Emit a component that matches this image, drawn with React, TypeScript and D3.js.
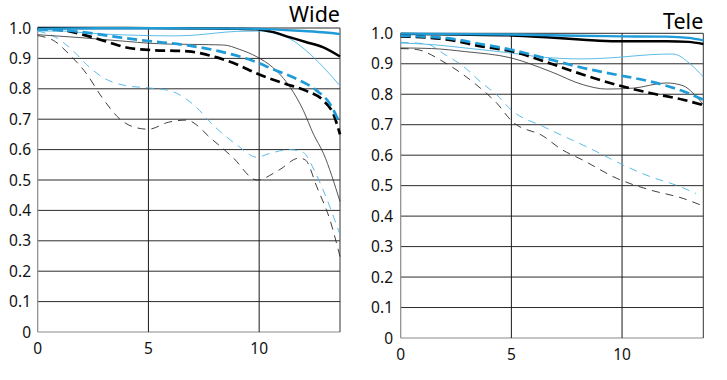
import React from "react";
import * as d3 from "d3";

type Pt = [number, number];

// ---- Tick labels ----
const xTicks = [0, 5, 10];
const yTicks = [0, 0.1, 0.2, 0.3, 0.4, 0.5, 0.6, 0.7, 0.8, 0.9, 1.0];
const yTickLabels = ["0", "0.1", "0.2", "0.3", "0.4", "0.5", "0.6", "0.7", "0.8", "0.9", "1.0"];

// ---- Wide ----
const wideThickSolidBlack: Pt[] = [[0, 1.0], [2, 1.0], [4, 1.0], [6, 0.999], [8, 0.998], [9, 0.997], [9.9, 0.996], [10.6, 0.987], [11.4, 0.969], [12.1, 0.954], [12.9, 0.936], [13.65, 0.906]];
const wideThickSolidBlue: Pt[] = [[0, 0.997], [3, 0.999], [6, 0.999], [9, 0.998], [10, 0.997], [11, 0.994], [12, 0.99], [13, 0.985], [13.65, 0.98]];
const wideThinSolidBlue: Pt[] = [[0, 0.99], [1, 0.99], [2, 0.985], [3, 0.98], [4, 0.977], [5, 0.975], [6, 0.974], [7, 0.976], [8, 0.983], [9, 0.989], [10, 0.99], [10.8, 0.98], [11.4, 0.964], [12.1, 0.927], [12.9, 0.871], [13.65, 0.81]];
const wideThickDashedBlack: Pt[] = [[0, 0.998], [1.1, 0.993], [2.2, 0.975], [3.2, 0.953], [4, 0.936], [5, 0.928], [6.8, 0.923], [8, 0.905], [9, 0.88], [9.9, 0.85], [11.2, 0.816], [12.1, 0.794], [12.9, 0.761], [13.35, 0.717], [13.65, 0.65]];
const wideThickDashedBlue: Pt[] = [[0, 0.995], [1.4, 0.991], [2.5, 0.982], [3.7, 0.969], [4.9, 0.958], [6.85, 0.942], [8.4, 0.92], [9.9, 0.887], [10.6, 0.865], [11.7, 0.832], [12.6, 0.794], [13.2, 0.75], [13.65, 0.684]];
const wideThinSolidBlack: Pt[] = [[0, 0.978], [2, 0.968], [4, 0.956], [5, 0.95], [6, 0.947], [7, 0.946], [8.4, 0.944], [9.1, 0.93], [9.9, 0.905], [10.6, 0.871], [11.4, 0.805], [12, 0.728], [12.45, 0.651], [12.9, 0.588], [13.65, 0.429]];
const wideThinDashedBlue: Pt[] = [[0, 0.99], [0.8, 0.97], [1.6, 0.925], [2.2, 0.88], [3, 0.835], [4, 0.81], [5, 0.803], [6, 0.793], [7, 0.75], [8, 0.675], [9, 0.615], [9.9, 0.575], [10.5, 0.588], [11.4, 0.6], [12, 0.59], [12.5, 0.53], [13.2, 0.41], [13.65, 0.32]];
const wideThinDashedBlack: Pt[] = [[0, 0.975], [0.8, 0.955], [1.4, 0.915], [2.2, 0.85], [2.9, 0.772], [3.8, 0.695], [4.4, 0.673], [5, 0.667], [5.9, 0.69], [6.7, 0.697], [7.9, 0.632], [8.8, 0.575], [9.9, 0.5], [10.9, 0.533], [11.8, 0.572], [12.1, 0.565], [12.6, 0.478], [13.2, 0.368], [13.65, 0.248]];

// ---- Tele ----
const teleThickSolidBlack: Pt[] = [[0, 0.998], [2.5, 0.996], [5, 0.993], [6.75, 0.986], [8.25, 0.979], [9.75, 0.974], [12, 0.974], [13, 0.972], [13.67, 0.965]];
const teleThickSolidBlue: Pt[] = [[0, 0.999], [5, 0.996], [8, 0.992], [10, 0.99], [12, 0.989], [13, 0.985], [13.67, 0.977]];
const teleThinSolidBlue: Pt[] = [[0, 0.968], [1.4, 0.963], [2.9, 0.952], [5, 0.935], [6.5, 0.921], [8.2, 0.916], [9.8, 0.921], [11.3, 0.93], [12.3, 0.932], [13.07, 0.9], [13.67, 0.857]];
const teleThickDashedBlack: Pt[] = [[0, 0.99], [2.14, 0.979], [3.64, 0.957], [5, 0.941], [6.8, 0.9], [8.25, 0.864], [9.75, 0.831], [11.26, 0.804], [12.76, 0.782], [13.67, 0.764]];
const teleThickDashedBlue: Pt[] = [[0, 0.992], [2.1, 0.984], [3.6, 0.965], [5, 0.946], [6.8, 0.913], [8.25, 0.886], [9.75, 0.864], [11.26, 0.842], [12.76, 0.81], [13.67, 0.782]];
const teleThinSolidBlack: Pt[] = [[0, 0.952], [1.4, 0.95], [2.9, 0.94], [5, 0.919], [6.75, 0.875], [8.25, 0.831], [9.3, 0.817], [10.5, 0.82], [12, 0.837], [12.76, 0.828], [13.2, 0.804], [13.67, 0.766]];
const teleThinDashedBlue: Pt[] = [[0, 0.97], [1.17, 0.965], [1.92, 0.934], [2.85, 0.89], [3.6, 0.841], [4.35, 0.797], [5, 0.748], [6.47, 0.693], [8.7, 0.617], [9.9, 0.573], [11.26, 0.53], [12.5, 0.5], [13.35, 0.474]];
const teleThinDashedBlack: Pt[] = [[0, 0.95], [0.7, 0.947], [1.92, 0.907], [2.85, 0.863], [3.6, 0.82], [4.35, 0.77], [5, 0.713], [6.47, 0.661], [7.2, 0.622], [8.25, 0.583], [9.76, 0.524], [11.26, 0.486], [12.76, 0.458], [13.67, 0.433]];

const BLACK = "#000";
const BLUE = "#1f9bd7";
const THIN_BLACK = "#2a2a2a";
const THIN_BLUE = "#49b4e4";
const FONT = "'Noto Sans', 'Open Sans', sans-serif";

type Series = { data: Pt[]; color: string; width: number; dash?: string };

function makeSeries(s: {
  thinDashedBlack: Pt[]; thinDashedBlue: Pt[]; thinSolidBlack: Pt[]; thinSolidBlue: Pt[];
  thickDashedBlack: Pt[]; thickDashedBlue: Pt[]; thickSolidBlack: Pt[]; thickSolidBlue: Pt[];
}): Series[] {
  return [
    { data: s.thinDashedBlack, color: THIN_BLACK, width: 0.9, dash: "8,6" },
    { data: s.thinDashedBlue, color: THIN_BLUE, width: 0.9, dash: "8,6" },
    { data: s.thinSolidBlack, color: THIN_BLACK, width: 0.8 },
    { data: s.thinSolidBlue, color: THIN_BLUE, width: 0.9 },
    { data: s.thickDashedBlack, color: BLACK, width: 2.7, dash: "10,5" },
    { data: s.thickDashedBlue, color: BLUE, width: 2.7, dash: "10,5" },
    { data: s.thickSolidBlack, color: BLACK, width: 2.4 },
    { data: s.thickSolidBlue, color: BLUE, width: 2.4 },
  ];
}

function Panel(props: {
  left: number; right: number; top: number; bottom: number; xMax: number;
  title: string; titleY: number; labelEnd: number; xLabelY: number; series: Series[];
}) {
  const { left, right, top, bottom, xMax, title, titleY, labelEnd, xLabelY, series } = props;
  const x = d3.scaleLinear().domain([0, xMax]).range([left, right]);
  const y = d3.scaleLinear().domain([0, 1]).range([bottom, top]);
  const line = d3
    .line<Pt>()
    .x((d) => x(d[0]))
    .y((d) => y(d[1]))
    .curve(d3.curveMonotoneX);
  return (
    <g>
      {yTicks.map((t, i) => (
        <line key={"h" + i} x1={left} x2={right} y1={y(t)} y2={y(t)}
          stroke={t === 0 ? "#8a8a8a" : "#2b2b2b"} strokeWidth={1} />
      ))}
      {xTicks.filter((t) => t > 0).map((t, i) => (
        <line key={"v" + i} x1={x(t)} x2={x(t)} y1={top} y2={bottom} stroke="#1a1a1a" strokeWidth={1} />
      ))}
      <line x1={right} x2={right} y1={top} y2={bottom} stroke="#333" strokeWidth={1} />
      <line x1={left} x2={left} y1={top} y2={bottom} stroke="#8a8a8a" strokeWidth={1.2} />
      {series.map((s, i) => (
        <path key={"s" + i} d={line(s.data) || ""} fill="none" stroke={s.color}
          strokeWidth={s.width} strokeDasharray={s.dash} />
      ))}
      {yTicks.map((t, i) => (
        <text key={"yl" + i} x={labelEnd} y={y(t)} dy="0.36em" textAnchor="end"
          fontFamily={FONT} fontSize={15.5} fill="#111">{yTickLabels[i]}</text>
      ))}
      {xTicks.map((t, i) => (
        <text key={"xl" + i} x={x(t)} y={xLabelY} textAnchor="middle"
          fontFamily={FONT} fontSize={15.5} fill="#111">{t}</text>
      ))}
      <text x={right} y={titleY} textAnchor="end" fontFamily={FONT} fontSize={21.5} fill="#000">{title}</text>
    </g>
  );
}

export default function App() {
  const wide = makeSeries({
    thinDashedBlack: wideThinDashedBlack, thinDashedBlue: wideThinDashedBlue,
    thinSolidBlack: wideThinSolidBlack, thinSolidBlue: wideThinSolidBlue,
    thickDashedBlack: wideThickDashedBlack, thickDashedBlue: wideThickDashedBlue,
    thickSolidBlack: wideThickSolidBlack, thickSolidBlue: wideThickSolidBlue,
  });
  const tele = makeSeries({
    thinDashedBlack: teleThinDashedBlack, thinDashedBlue: teleThinDashedBlue,
    thinSolidBlack: teleThinSolidBlack, thinSolidBlue: teleThinSolidBlue,
    thickDashedBlack: teleThickDashedBlack, thickDashedBlue: teleThickDashedBlue,
    thickSolidBlack: teleThickSolidBlack, thickSolidBlue: teleThickSolidBlue,
  });
  return (
    <svg width={727} height={380} style={{ position: "absolute", left: 0, top: 0, background: "#fff" }}>
      <rect x={0} y={0} width={727} height={380} fill="#fff" />
      <Panel left={37.7} right={340} top={28} bottom={332} xMax={13.65}
        title="Wide" titleY={21.5} labelEnd={31} xLabelY={353.5} series={wide} />
      <Panel left={400.7} right={703.3} top={33.3} bottom={338} xMax={13.67}
        title="Tele" titleY={29} labelEnd={393} xLabelY={359.5} series={tele} />
    </svg>
  );
}
